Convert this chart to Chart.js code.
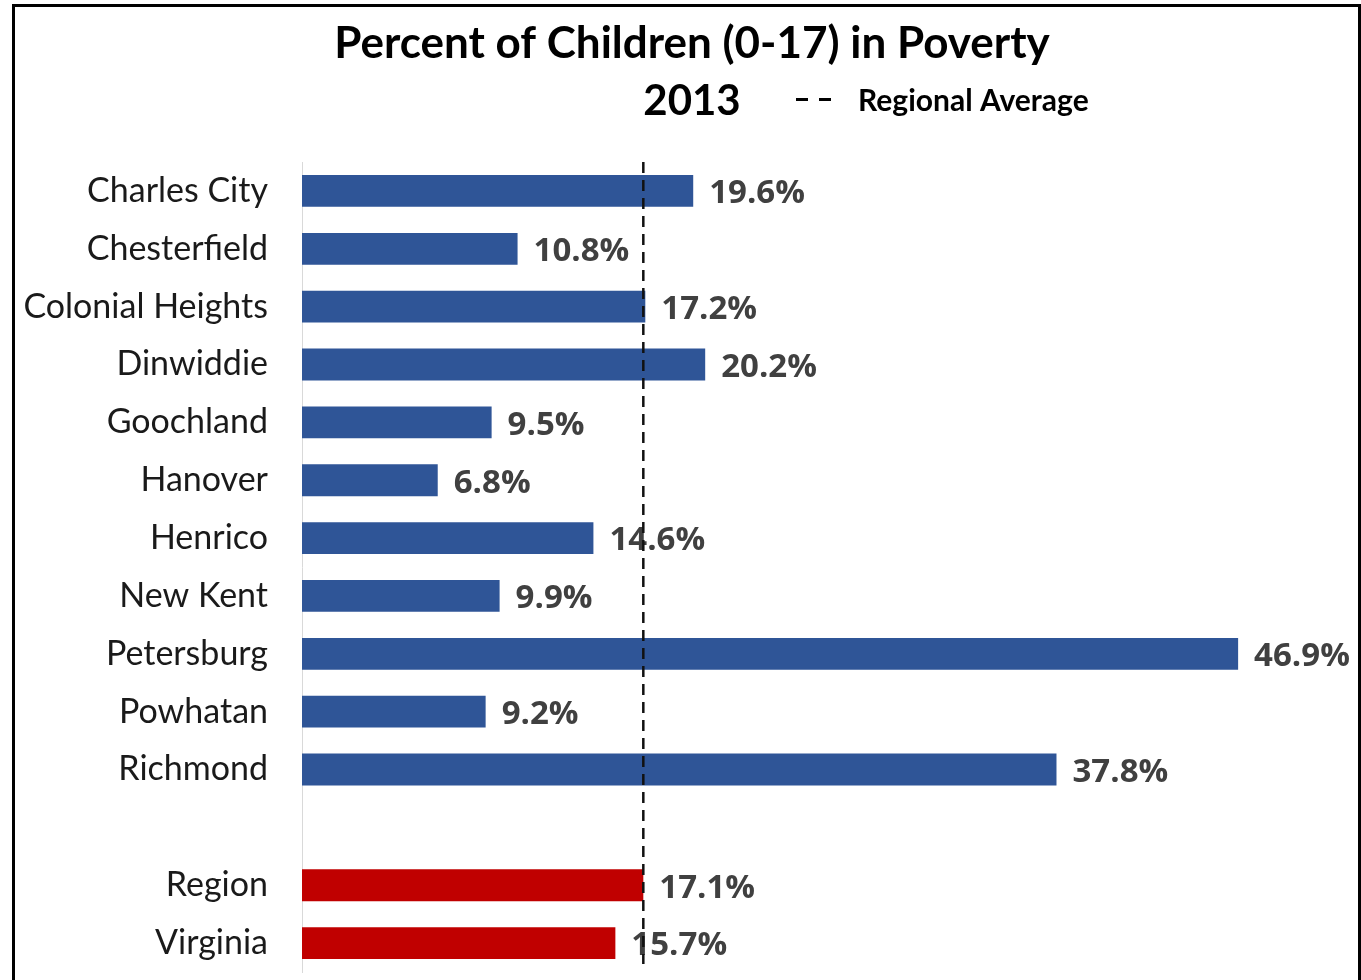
<!DOCTYPE html>
<html>
<head>
<meta charset="utf-8">
<script src="https://cdn.jsdelivr.net/npm/chart.js@4"></script>
<style>
  html, body { margin: 0; padding: 0; background: #fff; overflow: hidden; }
  #wrap { position: relative; width: 1361px; height: 980px; }
  #poverty-chart { display: block; }
  #frame {
    position: absolute; left: 12px; top: 4px; width: 1343px; height: 1000px;
    border: 3px solid #000; pointer-events: none;
  }
</style>
</head>
<body>
<div id="wrap">
  <canvas id="poverty-chart" width="1361" height="980"></canvas>
  <div id="frame"></div>
</div>
<script>
// 지역별 아동 빈곤율 (2013)
const localities = ['Charles City', 'Chesterfield', 'Colonial Heights', 'Dinwiddie', 'Goochland',
    'Hanover', 'Henrico', 'New Kent', 'Petersburg', 'Powhatan', 'Richmond'];
const localityRates = [19.6, 10.8, 17.2, 20.2, 9.5, 6.8, 14.6, 9.9, 46.9, 9.2, 37.8];

const comparisons = ['Region', 'Virginia'];
const comparisonRates = [17.1, 15.7];

const regionalAverage = 17.1;

const chartTitle = 'Percent of Children (0-17) in Poverty';
const chartYear = '2013';
const averageLabel = 'Regional Average';

// 빈 줄 하나를 사이에 두고 합침
const labels = [...localities, '', ...comparisons];
const rates = [...localityRates, null, ...comparisonRates];
const barColors = [
    ...localities.map(() => '#2F5597'),
    'transparent',
    ...comparisons.map(() => '#C00000')
];

// 제목 + 연도 + 범례 (상단 여백에 직접 그림)
const header = {
    id: 'header',
    afterDraw(chart) {
        const ctx = chart.ctx;
        ctx.save();
        ctx.fillStyle = '#000';
        ctx.textAlign = 'center';
        ctx.textBaseline = 'middle';
        ctx.font = "bold 44px Lato";
        ctx.fillText(chartTitle, 692, 44);
        ctx.font = "bold 42px Lato";
        ctx.fillText(chartYear, 692, 101);

        ctx.strokeStyle = '#000';
        ctx.lineWidth = 3;
        ctx.setLineDash([12, 11]);
        ctx.beginPath();
        ctx.moveTo(796, 99.5);
        ctx.lineTo(834, 99.5);
        ctx.stroke();
        ctx.font = "bold 30px Lato";
        ctx.textAlign = 'left';
        ctx.fillText(averageLabel, 858, 101);
        ctx.restore();
    }
};

// 막대 끝에 값 표시
const valueLabels = {
    id: 'valueLabels',
    afterDatasetsDraw(chart) {
        const ctx = chart.ctx;
        const meta = chart.getDatasetMeta(0);
        ctx.save();
        ctx.font = "bold 33px 'Open Sans'";
        ctx.fillStyle = '#404040';
        ctx.textAlign = 'left';
        ctx.textBaseline = 'middle';
        meta.data.forEach((bar, i) => {
            const v = rates[i];
            if (v == null) return;
            ctx.fillText(v.toFixed(1) + '%', bar.x + 16, bar.y + 3);
        });
        ctx.restore();
    }
};

// 지역 평균 점선
const averageLine = {
    id: 'averageLine',
    afterDraw(chart) {
        const { ctx, chartArea, scales } = chart;
        const x = scales.x.getPixelForValue(regionalAverage);
        ctx.save();
        ctx.strokeStyle = '#111';
        ctx.lineWidth = 2.5;
        ctx.setLineDash([11, 7]);
        ctx.beginPath();
        ctx.moveTo(x, chartArea.top);
        ctx.lineTo(x, chartArea.bottom - 8);
        ctx.stroke();
        ctx.restore();
    }
};

new Chart(document.getElementById('poverty-chart'), {
    type: 'bar',
    data: {
        labels: labels,
        datasets: [{
            data: rates,
            backgroundColor: barColors,
            borderWidth: 0,
            categoryPercentage: 1,
            barPercentage: 0.55
        }]
    },
    options: {
        indexAxis: 'y',
        responsive: false,
        animation: false,
        layout: { padding: { left: 18, right: 61, top: 162, bottom: 8 } },
        plugins: {
            legend: { display: false },
            tooltip: { enabled: false },
            title: { display: false }
        },
        scales: {
            x: { display: false, min: 0, max: 50 },
            y: {
                afterFit(scale) {
                    scale.width = 284;
                    scale.paddingTop = 0;
                    scale.paddingBottom = 0;
                },
                grid: { drawOnChartArea: false, drawTicks: false },
                border: { display: true, color: '#D9D9D9', width: 1 },
                ticks: {
                    color: '#1a1a1a',
                    padding: 34,
                    font: { family: 'Lato', size: 34 }
                }
            }
        }
    },
    plugins: [valueLabels, averageLine, header]
});
</script>
</body>
</html>
